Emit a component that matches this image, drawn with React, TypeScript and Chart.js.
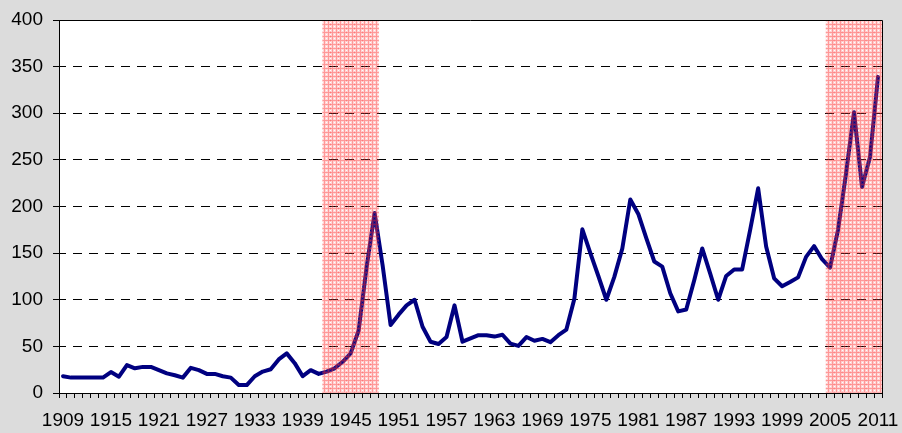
import React, { useEffect, useRef } from "react";
import { Chart, registerables } from "chart.js";

Chart.register(...registerables);

const years: string[] = [];
for (let y = 1909; y <= 2011; y++) years.push(String(y));

const values: number[] = [
  // 1909-1918
  18, 16.5, 16.5, 16.5, 16.5, 16.5, 22.5, 17.5, 30, 26.5,
  // 1919-1928
  28, 28, 24.5, 21, 19, 16.5, 27, 24.5, 20.5, 20.5,
  // 1929-1938
  18, 16.5, 8.5, 8.5, 18, 23, 25.5, 36, 42.5, 32,
  // 1939-1948
  18, 24.5, 20.5, 23, 26.5, 33.5, 42.5, 67, 135, 193,
  // 1949-1958
  137, 73, 84, 94, 100, 71, 55, 52.5, 60, 94,
  // 1959-1968
  55, 58.5, 62, 62, 60.5, 62.5, 53, 50.5, 60, 56,
  // 1969-1978
  58, 54.5, 62, 68, 101, 175.5, 150, 125.5, 100, 124.5,
  // 1979-1988
  155, 207.5, 192, 166, 141, 135.5, 107, 87.5, 89.5, 121,
  // 1989-1998
  155, 128, 100, 125.5, 132.5, 132.5, 175, 219.5, 157, 123,
  // 1999-2008
  114.5, 119, 124, 146, 157.5, 143.5, 134.5, 175, 235.5, 301,
  // 2009-2011
  221, 253, 339,
];

const shadedYears: number[] = [
  1942, 1943, 1944, 1945, 1946, 1947, 1948,
  2005, 2006, 2007, 2008, 2009, 2010, 2011,
];
const shadeTop = 400;

const yTicks: number[] = [0, 50, 100, 150, 200, 250, 300, 350, 400];

function makePattern(): CanvasPattern | string {
  const c = document.createElement("canvas");
  c.width = 4;
  c.height = 4;
  const cx = c.getContext("2d");
  if (!cx) return "rgba(255,80,80,0.4)";
  const img = cx.createImageData(4, 4);
  for (let r = 0; r < 4; r++) {
    for (let col = 0; col < 4; col++) {
      const i = (r * 4 + col) * 4;
      let a = 0.26;
      let g = 90;
      if (r === 0 || col === 0) { a = 0.5; g = 50; }
      if (r === 2 && col === 2) { a = 0.02; g = 220; }
      img.data[i] = 255;
      img.data[i + 1] = g;
      img.data[i + 2] = g;
      img.data[i + 3] = Math.round(a * 255);
    }
  }
  cx.putImageData(img, 0, 0);
  const p = cx.createPattern(c, "repeat");
  return p || "rgba(255,80,80,0.4)";
}

const frame = {
  id: "frame",
  beforeDraw(chart: any) {
    const { ctx, chartArea } = chart;
    ctx.save();
    ctx.fillStyle = "#ffffff";
    ctx.fillRect(chartArea.left, chartArea.top, chartArea.right - chartArea.left, chartArea.bottom - chartArea.top);
    ctx.restore();
  },
  afterDraw(chart: any) {
    const { ctx, chartArea } = chart;
    ctx.save();
    ctx.strokeStyle = "#000";
    ctx.lineWidth = 1;
    ctx.beginPath();
    const t = Math.round(chartArea.top) + 0.5;
    const r = Math.round(chartArea.right) + 0.5;
    ctx.moveTo(chartArea.left, t);
    ctx.lineTo(r, t);
    ctx.lineTo(r, chartArea.bottom);
    ctx.stroke();
    ctx.restore();
  },
};

export default function App() {
  const ref = useRef<HTMLCanvasElement | null>(null);
  useEffect(() => {
    if (!ref.current) return;
    const font = { family: "'Liberation Sans', Arial, sans-serif", size: 19 };
    const shade = years.map((y) => (shadedYears.includes(Number(y)) ? shadeTop : null));
    const chart = new Chart(ref.current, {
      type: "bar",
      data: {
        labels: years,
        datasets: [
          {
            type: "bar",
            data: shade as any,
            backgroundColor: makePattern() as any,
            borderWidth: 0,
            barPercentage: 1,
            categoryPercentage: 1,
            order: 0,
          },
          {
            type: "line",
            data: values,
            borderColor: "#000080",
            borderWidth: 4,
            borderJoinStyle: "round",
            borderCapStyle: "round",
            pointRadius: 0,
            tension: 0,
            fill: false,
            order: 1,
          } as any,
        ],
      },
      options: {
        animation: false,
        responsive: true,
        maintainAspectRatio: false,
        layout: { padding: { top: 20, right: 20, left: 0, bottom: 0 } },
        plugins: { legend: { display: false }, tooltip: { enabled: false } },
        scales: {
          x: {
            type: "category",
            offset: true,
            grid: { offset: true, drawOnChartArea: false, drawTicks: true, tickLength: 5, color: "#000" },
            border: { color: "#000", width: 1 },
            ticks: {
              autoSkip: false,
              maxRotation: 0,
              minRotation: 0,
              color: "#000",
              font,
              padding: 11,
              callback: (_v: any, i: number) => (i % 6 === 0 ? years[i] : ""),
            },
            afterFit: (s: any) => {
              s.height = 40;
              s.paddingLeft = 0;
              s.paddingRight = 0;
            },
          },
          y: {
            min: 0,
            max: 400,
            afterBuildTicks: (s: any) => { s.ticks = yTicks.map((v) => ({ value: v })); },
            grid: { color: "#000", lineWidth: 1, tickLength: 6, tickColor: "#000" },
            border: { color: "#000", width: 1, dash: [9, 7], dashOffset: 3 },
            ticks: { color: "#000", font, padding: 10 },
            afterFit: (s: any) => {
              s.width = 59;
              s.paddingTop = 0;
              s.paddingBottom = 0;
            },
          },
        },
      },
      plugins: [frame],
    });
    return () => chart.destroy();
  }, []);
  return (
    <div style={{ position: "absolute", left: 0, top: 0, width: 902, height: 433, background: "#dcdcdc" }}>
      <canvas ref={ref} />
    </div>
  );
}
